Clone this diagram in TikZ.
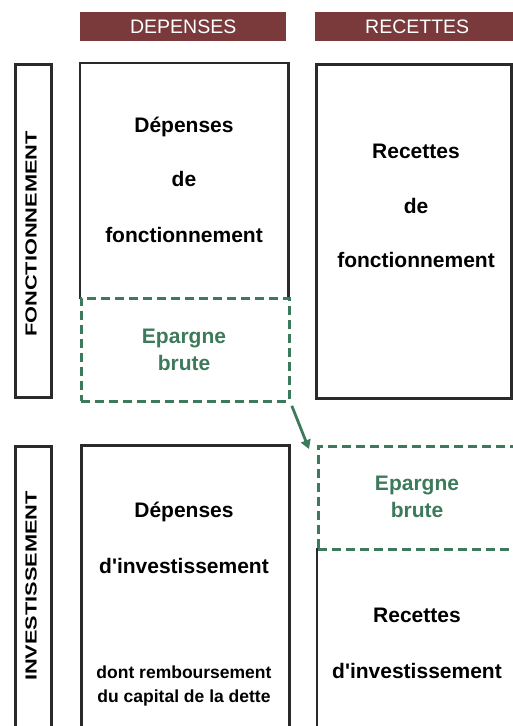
\documentclass[tikz,border=0pt]{standalone}
\usepackage{fontspec}
\setmainfont{Liberation Sans}
\usetikzlibrary{positioning,arrows.meta}
\definecolor{headred}{HTML}{7A3A3C}
\definecolor{epgreen}{HTML}{3D7A5C}
\definecolor{framegray}{HTML}{2A2A2A}

\begin{document}
\begin{tikzpicture}[x=1pt, y=-1pt,
  head/.style={fill=headred, text=white, anchor=north west, inner sep=0pt,
    minimum height=29pt, font=\fontsize{19.5}{19.5}\selectfont},
  frame/.style={draw=framegray, line width=2.8pt, anchor=north west, inner sep=0pt},
  area/.style={anchor=north west, inner sep=0pt},
  edge/.style={draw=framegray, line width=2.8pt},
  saving/.style={draw=epgreen, line width=2.8pt, dash pattern=on 9pt off 5pt,
    anchor=north west, inner sep=0pt},
  side/.style={font=\fontsize{16}{16}\bfseries\selectfont, rotate=90},
  big/.style={font=\fontsize{21}{21}\bfseries\selectfont, anchor=base},
  small/.style={font=\fontsize{17.5}{17.5}\bfseries\selectfont, anchor=base},
  green/.style={big, text=epgreen}]
  \useasboundingbox (0,0) rectangle (512,726);

  % column heads
  \node[head, minimum width=206pt] (hdep) at (80,12) {DEPENSES};
  \node[head, minimum width=204pt] (hrec) at (315,12) {RECETTES};

  % side bars
  \node[frame, minimum width=36pt, minimum height=333pt] (barf) at (14,63) {};
  \node[frame, minimum width=36pt, minimum height=300pt] (bari) at (14,445) {};
  \node[side] (lf) at (31,234) {\scalebox{1.36}[1]{FONCTIONNEMENT}};
  \node[side] (li) at (31,586) {\scalebox{1.36}[1]{INVESTISSEMENT}};

  % fonctionnement
  \node[area, minimum width=208pt, minimum height=236pt] (depf) at (80,63) {};
  \draw[edge] (depf.south west) |- (depf.north east) -- (depf.south east);
  \node[saving, minimum width=208pt, minimum height=103pt] (ep1) at (80,297) {};
  \node[frame, minimum width=195pt, minimum height=334pt] (recf) at (315,63) {};

  \node[big] (t1) at (184,132) {Dépenses};
  \node[big] (t2) at (184,186) {de};
  \node[big] (t3) at (184,242) {fonctionnement};
  \node[green] (t4) at (184,343) {Epargne};
  \node[green] (t5) at (184,370) {brute};

  \node[big] (t6) at (416,158) {Recettes};
  \node[big] (t7) at (416,213) {de};
  \node[big] (t8) at (416,267) {fonctionnement};

  % investissement
  \node[frame, minimum width=208pt, minimum height=300pt] (depi) at (80,444) {};
  \node[area, minimum width=210pt, minimum height=200pt] (reci) at (317,548) {};
  \draw[edge] (reci.north west) -- (reci.south west);
  \node[saving, minimum width=210pt, minimum height=103pt] (ep2) at (317,445) {};

  \node[big] (t9) at (184,517) {Dépenses};
  \node[big] (t10) at (184,573) {d\textquotesingle investissement};
  \node[small] (t11) at (184,678) {dont remboursement};
  \node[small] (t12) at (184,702) {du capital de la dette};

  \node[green] (t13) at (417,490) {Epargne};
  \node[green] (t14) at (417,517) {brute};
  \node[big] (t15) at (417,622) {Recettes};
  \node[big] (t16) at (417,678) {d\textquotesingle investissement};

  \draw[epgreen, line width=2.8pt, -{Triangle[length=9pt,width=10pt]}]
    ([xshift=1pt,yshift=-3pt]ep1.south east) -- ([xshift=-8pt,yshift=-4pt]ep2.north west);
\end{tikzpicture}
\end{document}
